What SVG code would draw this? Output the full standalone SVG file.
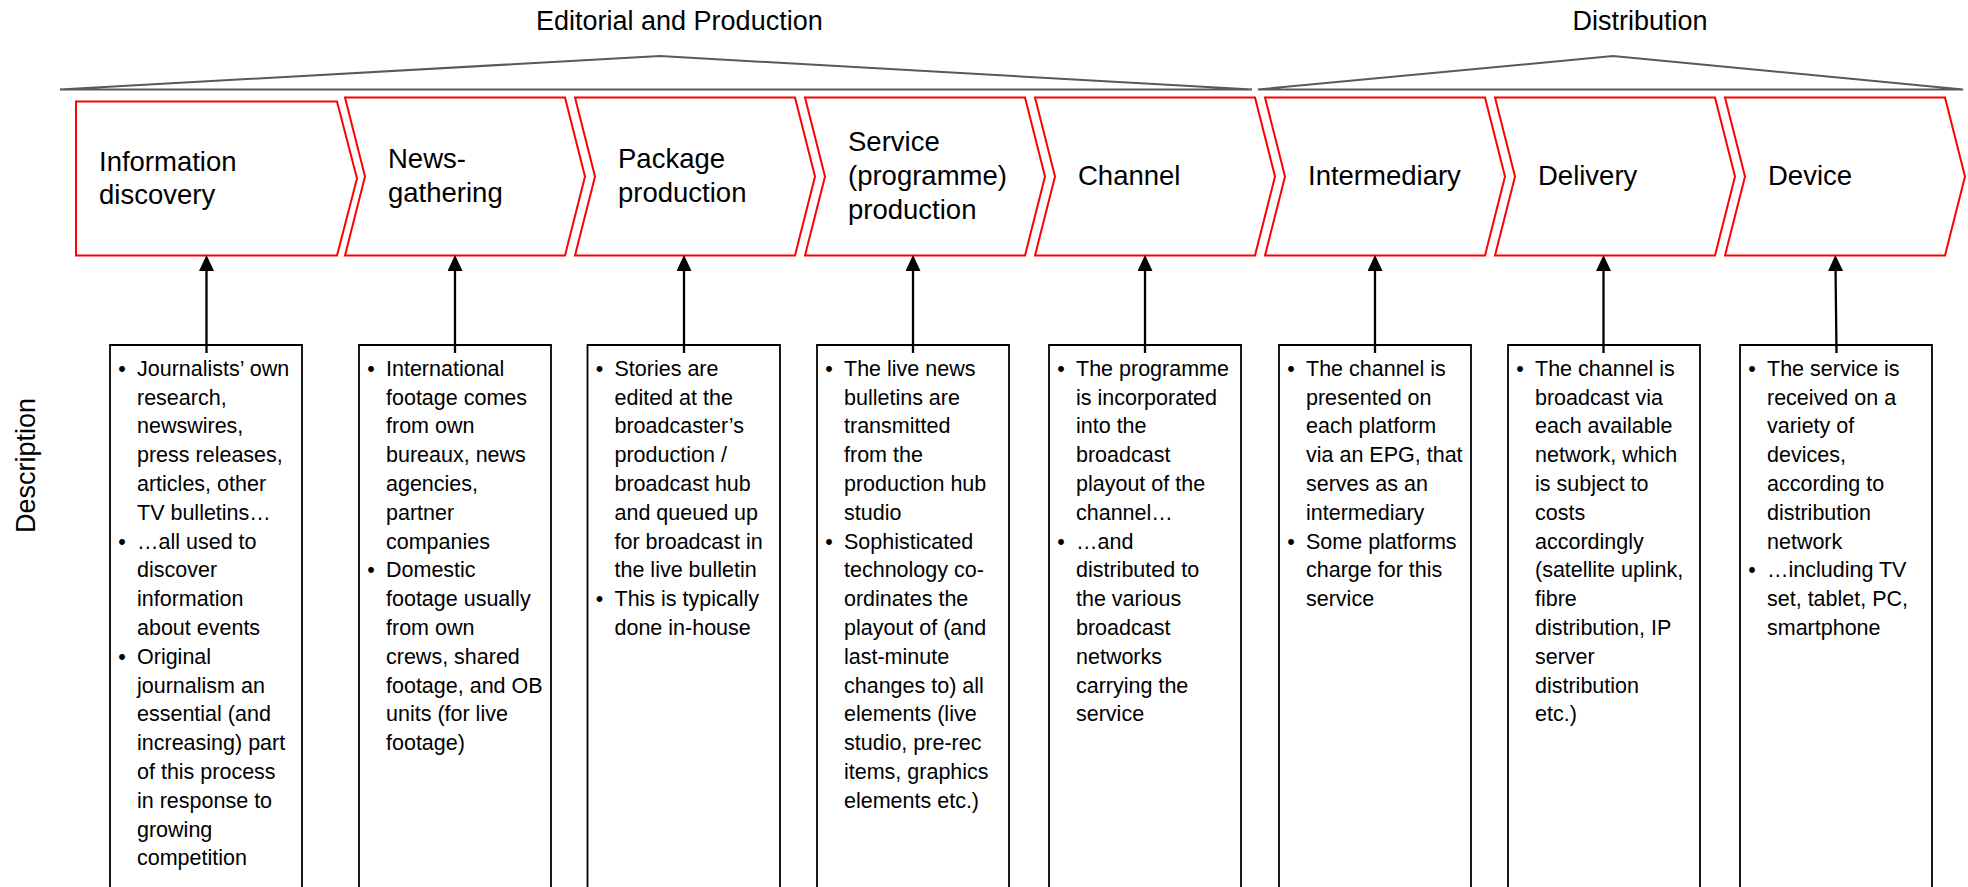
<svg xmlns="http://www.w3.org/2000/svg" width="1968" height="887" viewBox="0 0 1968 887">
<style>
  .hdr { font-family: "Liberation Sans", Arial, sans-serif; font-size: 27px; fill: #000; }
  .lbl { font-family: "Liberation Sans", Arial, sans-serif; font-size: 27.5px; fill: #000; }
  .body { font-family: "Liberation Sans", Arial, sans-serif; font-size: 21.5px; fill: #000; }
  .bul { font-family: "Liberation Sans", Arial, sans-serif; font-size: 21.5px; fill: #000; text-anchor: middle; }
  .chev { fill: #fff; stroke: #ff0000; stroke-width: 2; stroke-linejoin: miter; }
  .box { fill: none; stroke: #000; stroke-width: 1.8; }
  .brk { fill: none; stroke: #595959; stroke-width: 2; stroke-linejoin: miter; }
  .conn { stroke: #000; stroke-width: 2.3; fill: none; }
</style>
<defs>
  <marker id="ah" markerUnits="userSpaceOnUse" markerWidth="16" markerHeight="15" refX="5" refY="7.5" orient="auto">
    <path d="M0,0 L16,7.5 L0,15 Z" fill="#000"/>
  </marker>
</defs>
<rect width="1968" height="887" fill="#fff"/>

<g id="brackets">
  <polygon class="brk" points="60,89.5 660,56 1252,89.5"/>
  <polygon class="brk" points="1258,89.5 1613,56 1963,89.5"/>
  <text class="hdr" x="536" y="30">Editorial and Production</text>
  <text class="hdr" x="1640" y="30" text-anchor="middle">Distribution</text>
</g>

<g id="side-label">
  <text class="hdr" transform="translate(35,465.5) rotate(-90)" text-anchor="middle">Description</text>
</g>

<g id="stage-1">
  <path class="chev" d="M76,101.5 H337 L357,178.5 L337,255.5 H76 Z"/>
  <text class="lbl" x="99" y="171">Information</text>
  <text class="lbl" x="99" y="204">discovery</text>
</g>
<g id="stage-2">
  <path class="chev" d="M345,97.5 H565 L585,176.5 L565,255.5 H345 L365,176.5 Z"/>
  <text class="lbl" x="388" y="168">News-</text>
  <text class="lbl" x="388" y="202">gathering</text>
</g>
<g id="stage-3">
  <path class="chev" d="M575,97.5 H795 L815,176.5 L795,255.5 H575 L595,176.5 Z"/>
  <text class="lbl" x="618" y="168">Package</text>
  <text class="lbl" x="618" y="202">production</text>
</g>
<g id="stage-4">
  <path class="chev" d="M805,97.5 H1025 L1045,176.5 L1025,255.5 H805 L825,176.5 Z"/>
  <text class="lbl" x="848" y="151">Service</text>
  <text class="lbl" x="848" y="185">(programme)</text>
  <text class="lbl" x="848" y="219">production</text>
</g>
<g id="stage-5">
  <path class="chev" d="M1035,97.5 H1255 L1275,176.5 L1255,255.5 H1035 L1055,176.5 Z"/>
  <text class="lbl" x="1078" y="185">Channel</text>
</g>
<g id="stage-6">
  <path class="chev" d="M1265,97.5 H1485 L1505,176.5 L1485,255.5 H1265 L1285,176.5 Z"/>
  <text class="lbl" x="1308" y="185">Intermediary</text>
</g>
<g id="stage-7">
  <path class="chev" d="M1495,97.5 H1715 L1735,176.5 L1715,255.5 H1495 L1515,176.5 Z"/>
  <text class="lbl" x="1538" y="185">Delivery</text>
</g>
<g id="stage-8">
  <path class="chev" d="M1725,97.5 H1945 L1965,176.5 L1945,255.5 H1725 L1745,176.5 Z"/>
  <text class="lbl" x="1768" y="185">Device</text>
</g>

<g id="desc-1">
  <path class="box" d="M110,888 V345 H302 V888"/>
  <text class="bul" x="122" y="375.7">•</text>
  <text class="bul" x="122" y="548.5">•</text>
  <text class="bul" x="122" y="663.7">•</text>
  <text class="body">
    <tspan x="137" y="375.7">Journalists’ own</tspan>
    <tspan x="137" y="404.5">research,</tspan>
    <tspan x="137" y="433.3">newswires,</tspan>
    <tspan x="137" y="462.1">press releases,</tspan>
    <tspan x="137" y="490.9">articles, other</tspan>
    <tspan x="137" y="519.7">TV bulletins…</tspan>
    <tspan x="137" y="548.5">…all used to</tspan>
    <tspan x="137" y="577.3">discover</tspan>
    <tspan x="137" y="606.1">information</tspan>
    <tspan x="137" y="634.9">about events</tspan>
    <tspan x="137" y="663.7">Original</tspan>
    <tspan x="137" y="692.5">journalism an</tspan>
    <tspan x="137" y="721.3">essential (and</tspan>
    <tspan x="137" y="750.1">increasing) part</tspan>
    <tspan x="137" y="778.9">of this process</tspan>
    <tspan x="137" y="807.7">in response to</tspan>
    <tspan x="137" y="836.5">growing</tspan>
    <tspan x="137" y="865.3">competition</tspan>
  </text>
</g>

<g id="desc-2">
  <path class="box" d="M359,888 V345 H551 V888"/>
  <text class="bul" x="371" y="375.7">•</text>
  <text class="bul" x="371" y="577.3">•</text>
  <text class="body">
    <tspan x="386" y="375.7">International</tspan>
    <tspan x="386" y="404.5">footage comes</tspan>
    <tspan x="386" y="433.3">from own</tspan>
    <tspan x="386" y="462.1">bureaux, news</tspan>
    <tspan x="386" y="490.9">agencies,</tspan>
    <tspan x="386" y="519.7">partner</tspan>
    <tspan x="386" y="548.5">companies</tspan>
    <tspan x="386" y="577.3">Domestic</tspan>
    <tspan x="386" y="606.1">footage usually</tspan>
    <tspan x="386" y="634.9">from own</tspan>
    <tspan x="386" y="663.7">crews, shared</tspan>
    <tspan x="386" y="692.5">footage, and OB</tspan>
    <tspan x="386" y="721.3">units (for live</tspan>
    <tspan x="386" y="750.1">footage)</tspan>
  </text>
</g>

<g id="desc-3">
  <path class="box" d="M587.5,888 V345 H780 V888"/>
  <text class="bul" x="599.5" y="375.7">•</text>
  <text class="bul" x="599.5" y="606.1">•</text>
  <text class="body">
    <tspan x="614.5" y="375.7">Stories are</tspan>
    <tspan x="614.5" y="404.5">edited at the</tspan>
    <tspan x="614.5" y="433.3">broadcaster’s</tspan>
    <tspan x="614.5" y="462.1">production /</tspan>
    <tspan x="614.5" y="490.9">broadcast hub</tspan>
    <tspan x="614.5" y="519.7">and queued up</tspan>
    <tspan x="614.5" y="548.5">for broadcast in</tspan>
    <tspan x="614.5" y="577.3">the live bulletin</tspan>
    <tspan x="614.5" y="606.1">This is typically</tspan>
    <tspan x="614.5" y="634.9">done in-house</tspan>
  </text>
</g>

<g id="desc-4">
  <path class="box" d="M817,888 V345 H1009 V888"/>
  <text class="bul" x="829" y="375.7">•</text>
  <text class="bul" x="829" y="548.5">•</text>
  <text class="body">
    <tspan x="844" y="375.7">The live news</tspan>
    <tspan x="844" y="404.5">bulletins are</tspan>
    <tspan x="844" y="433.3">transmitted</tspan>
    <tspan x="844" y="462.1">from the</tspan>
    <tspan x="844" y="490.9">production hub</tspan>
    <tspan x="844" y="519.7">studio</tspan>
    <tspan x="844" y="548.5">Sophisticated</tspan>
    <tspan x="844" y="577.3">technology co-</tspan>
    <tspan x="844" y="606.1">ordinates the</tspan>
    <tspan x="844" y="634.9">playout of (and</tspan>
    <tspan x="844" y="663.7">last-minute</tspan>
    <tspan x="844" y="692.5">changes to) all</tspan>
    <tspan x="844" y="721.3">elements (live</tspan>
    <tspan x="844" y="750.1">studio, pre-rec</tspan>
    <tspan x="844" y="778.9">items, graphics</tspan>
    <tspan x="844" y="807.7">elements etc.)</tspan>
  </text>
</g>

<g id="desc-5">
  <path class="box" d="M1049,888 V345 H1241 V888"/>
  <text class="bul" x="1061" y="375.7">•</text>
  <text class="bul" x="1061" y="548.5">•</text>
  <text class="body">
    <tspan x="1076" y="375.7">The programme</tspan>
    <tspan x="1076" y="404.5">is incorporated</tspan>
    <tspan x="1076" y="433.3">into the</tspan>
    <tspan x="1076" y="462.1">broadcast</tspan>
    <tspan x="1076" y="490.9">playout of the</tspan>
    <tspan x="1076" y="519.7">channel…</tspan>
    <tspan x="1076" y="548.5">…and</tspan>
    <tspan x="1076" y="577.3">distributed to</tspan>
    <tspan x="1076" y="606.1">the various</tspan>
    <tspan x="1076" y="634.9">broadcast</tspan>
    <tspan x="1076" y="663.7">networks</tspan>
    <tspan x="1076" y="692.5">carrying the</tspan>
    <tspan x="1076" y="721.3">service</tspan>
  </text>
</g>

<g id="desc-6">
  <path class="box" d="M1279,888 V345 H1471 V888"/>
  <text class="bul" x="1291" y="375.7">•</text>
  <text class="bul" x="1291" y="548.5">•</text>
  <text class="body">
    <tspan x="1306" y="375.7">The channel is</tspan>
    <tspan x="1306" y="404.5">presented on</tspan>
    <tspan x="1306" y="433.3">each platform</tspan>
    <tspan x="1306" y="462.1">via an EPG, that</tspan>
    <tspan x="1306" y="490.9">serves as an</tspan>
    <tspan x="1306" y="519.7">intermediary</tspan>
    <tspan x="1306" y="548.5">Some platforms</tspan>
    <tspan x="1306" y="577.3">charge for this</tspan>
    <tspan x="1306" y="606.1">service</tspan>
  </text>
</g>

<g id="desc-7">
  <path class="box" d="M1508,888 V345 H1700 V888"/>
  <text class="bul" x="1520" y="375.7">•</text>
  <text class="body">
    <tspan x="1535" y="375.7">The channel is</tspan>
    <tspan x="1535" y="404.5">broadcast via</tspan>
    <tspan x="1535" y="433.3">each available</tspan>
    <tspan x="1535" y="462.1">network, which</tspan>
    <tspan x="1535" y="490.9">is subject to</tspan>
    <tspan x="1535" y="519.7">costs</tspan>
    <tspan x="1535" y="548.5">accordingly</tspan>
    <tspan x="1535" y="577.3">(satellite uplink,</tspan>
    <tspan x="1535" y="606.1">fibre</tspan>
    <tspan x="1535" y="634.9">distribution, IP</tspan>
    <tspan x="1535" y="663.7">server</tspan>
    <tspan x="1535" y="692.5">distribution</tspan>
    <tspan x="1535" y="721.3">etc.)</tspan>
  </text>
</g>

<g id="desc-8">
  <path class="box" d="M1740,888 V345 H1932 V888"/>
  <text class="bul" x="1752" y="375.7">•</text>
  <text class="bul" x="1752" y="577.3">•</text>
  <text class="body">
    <tspan x="1767" y="375.7">The service is</tspan>
    <tspan x="1767" y="404.5">received on a</tspan>
    <tspan x="1767" y="433.3">variety of</tspan>
    <tspan x="1767" y="462.1">devices,</tspan>
    <tspan x="1767" y="490.9">according to</tspan>
    <tspan x="1767" y="519.7">distribution</tspan>
    <tspan x="1767" y="548.5">network</tspan>
    <tspan x="1767" y="577.3">…including TV</tspan>
    <tspan x="1767" y="606.1">set, tablet, PC,</tspan>
    <tspan x="1767" y="634.9">smartphone</tspan>
  </text>
</g>

<g id="connectors">
  <line class="conn" x1="206.5" y1="353" x2="206.5" y2="266" marker-end="url(#ah)"/>
  <line class="conn" x1="455" y1="353" x2="455" y2="266" marker-end="url(#ah)"/>
  <line class="conn" x1="684" y1="353" x2="684" y2="266" marker-end="url(#ah)"/>
  <line class="conn" x1="913" y1="353" x2="913" y2="266" marker-end="url(#ah)"/>
  <line class="conn" x1="1145" y1="353" x2="1145" y2="266" marker-end="url(#ah)"/>
  <line class="conn" x1="1375" y1="353" x2="1375" y2="266" marker-end="url(#ah)"/>
  <line class="conn" x1="1603.5" y1="353" x2="1603.5" y2="266" marker-end="url(#ah)"/>
  <line class="conn" x1="1836.5" y1="353" x2="1835.5" y2="266" marker-end="url(#ah)"/>
</g>
</svg>
